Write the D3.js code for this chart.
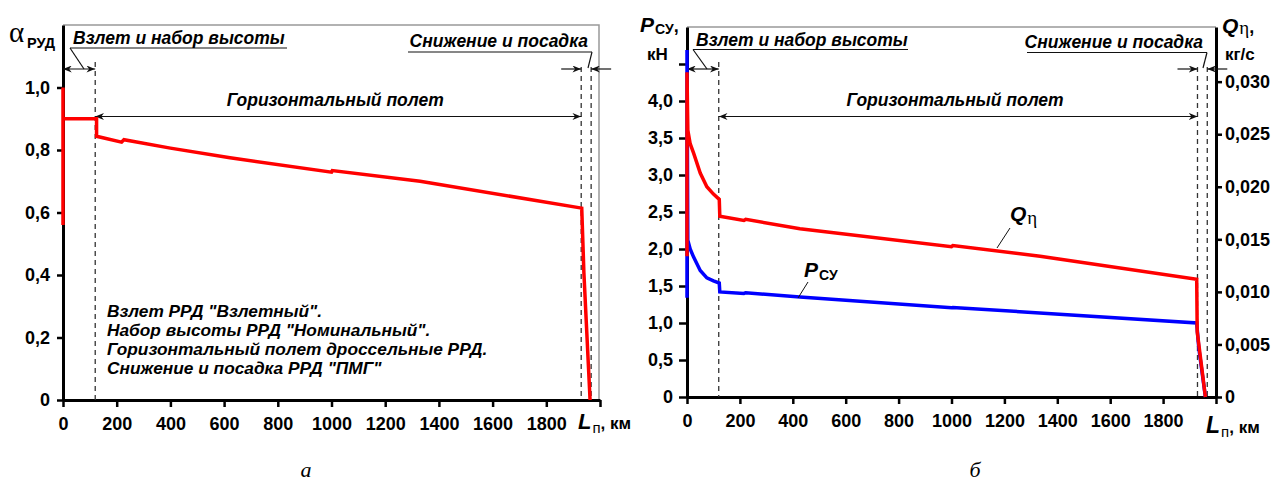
<!DOCTYPE html>
<html>
<head>
<meta charset="utf-8">
<script src="https://cdnjs.cloudflare.com/ajax/libs/d3/7.8.5/d3.min.js"></script>
<style>
  body { margin: 0; background: #fff; }
  text { font-family: "Liberation Sans", Arial, sans-serif; fill: #000; }
  .ann { font-style: italic; font-weight: bold; font-size: 17.5px; }
  .bold { font-weight: bold; }
  .serif { font-family: "Liberation Serif", "Times New Roman", serif; }
</style>
</head>
<body>
<svg id="chart" width="1276" height="484"></svg>
<script>
// ---- data ----
var kmTicks = [0, 200, 400, 600, 800, 1000, 1200, 1400, 1600, 1800, 2000];
var kmLabels = ["0", "200", "400", "600", "800", "1000", "1200", "1400", "1600", "1800", ""];
var alphaTicks = [0, 0.2, 0.4, 0.6, 0.8, 1.0];
var alphaLabels = ["0", "0,2", "0,4", "0,6", "0,8", "1,0"];
var pTicks = [0, 0.5, 1.0, 1.5, 2.0, 2.5, 3.0, 3.5, 4.0, 4.5];
var pLabels = ["0", "0,5", "1,0", "1,5", "2,0", "2,5", "3,0", "3,5", "4,0", ""];
var qTicks = [0, 0.005, 0.010, 0.015, 0.020, 0.025, 0.030];
var qLabels = ["0", "0,005", "0,010", "0,015", "0,020", "0,025", "0,030"];

// flight phases: end of climb, end of cruise, touchdown (km)
var phaseKm = [120, 1930, 1967];
var phaseNames = ["Взлет и набор высоты", "Горизонтальный полет", "Снижение и посадка"];
var notes = [
  'Взлет РРД "Взлетный".',
  'Набор высоты РРД "Номинальный".',
  'Горизонтальный полет дроссельные РРД.',
  'Снижение и посадка РРД "ПМГ"'
];

// throttle position alpha_RUD
var alphaKm  = [0,    0,   0,    125,  125,   218,   227,   400,   622,   1000,  1003,  1330, 1932,  1940,  1963];
var alphaVal = [0.56, 1.0, 0.90, 0.90, 0.844, 0.825, 0.833, 0.806, 0.775, 0.729, 0.734, 0.70, 0.614, 0.407, 0];

// thrust P_SU, kN
var pKm  = [0,    0,    3,    12,   25,   50,   75,   100,  122,  124,  215,  222,  427,  1000,  1005, 1927, 1935, 1960];
var pVal = [1.34, 4.69, 2.12, 2.00, 1.89, 1.71, 1.61, 1.57, 1.54, 1.42, 1.40, 1.41, 1.35, 1.205, 1.21, 1.00, 0.66, 0];

// fuel flow Q, kg/s
var qKm  = [0,      0,      3,      12,     25,     50,     75,     100,    122,    124,    215,    222,    427,    1000,   1005,   1335,   1927,   1929,   1960];
var qVal = [0.0134, 0.0309, 0.0254, 0.0241, 0.0232, 0.0213, 0.0200, 0.0193, 0.0188, 0.0172, 0.0168, 0.0169, 0.0160, 0.0143, 0.0144, 0.0134, 0.0112, 0.0062, 0];

var svg = d3.select("#chart");

var defs = svg.append("defs");
defs.append("marker")
  .attr("id", "arr")
  .attr("viewBox", "0 0 10 8")
  .attr("refX", 10).attr("refY", 4)
  .attr("markerWidth", 9).attr("markerHeight", 7)
  .attr("markerUnits", "userSpaceOnUse")
  .attr("orient", "auto-start-reverse")
  .append("path").attr("d", "M0,0 L10,4 L0,8 L3,4 Z").attr("fill", "#111");

function styleAxis(sel) {
  sel.attr("font-size", null).attr("font-family", null);
  sel.select(".domain").attr("stroke", "#000").attr("stroke-width", 3);
  sel.selectAll(".tick line").attr("stroke", "#000").attr("stroke-width", 2.5);
  sel.selectAll(".tick text").attr("class", "bold").style("font-size", "18px").attr("fill", "#000");
}

function seg(g, x1, y1, x2, y2, w, col) {
  return g.append("line").attr("x1", x1).attr("y1", y1).attr("x2", x2).attr("y2", y2)
    .attr("stroke", col || "#111").attr("stroke-width", w || 1.2);
}

function text(g, x, y, s, cls, size) {
  var t = g.append("text").attr("x", x).attr("y", y).attr("class", cls || null).text(s);
  if (size) t.style("font-size", size + "px");
  return t;
}

function span(t, s, cls, size, dx, dy) {
  return t.append("tspan").attr("class", cls || null).style("font-size", size + "px")
    .attr("dx", dx || 0).attr("dy", dy || 0).text(s);
}

// phase marks shared by both panels
function phases(g, x, yBottom, ul) {
  phaseKm.forEach(function (k, i) {
    seg(g, x(k), i == 0 ? 62 : 67, x(k), yBottom, 1.3, "#333").attr("stroke-dasharray", "5,4");
  });
  // takeoff/climb
  seg(g, x(0), 69, x(phaseKm[0]), 69).attr("marker-start", "url(#arr)").attr("marker-end", "url(#arr)");
  seg(g, ul.a0, ul.ya, ul.a1, ul.ya);
  seg(g, ul.a0, ul.ya, ul.a0 + 14, 69);
  text(g, ul.a0 + 3, ul.ya - 4, phaseNames[0], "ann");
  // cruise
  seg(g, x(phaseKm[0]), 116.5, x(phaseKm[1]), 116.5).attr("marker-start", "url(#arr)").attr("marker-end", "url(#arr)");
  text(g, (x(phaseKm[0]) + x(phaseKm[1])) / 2 - 3, 106, phaseNames[1], "ann").attr("text-anchor", "middle");
  // descent/landing
  seg(g, x(phaseKm[1]) - 20, 69, x(phaseKm[1]), 69).attr("marker-end", "url(#arr)");
  seg(g, x(phaseKm[2]) + 20, 69, x(phaseKm[2]), 69).attr("marker-end", "url(#arr)");
  seg(g, ul.c0, ul.yc, ul.c1, ul.yc);
  seg(g, ul.c1, ul.yc, ul.c1 - 4, 68);
  text(g, ul.c1 - 4, ul.yc - 5, phaseNames[2], "ann").attr("text-anchor", "end");
}

// ================= panel a =================
var gA = svg.append("g");
var xA = d3.scaleLinear().domain([0, 2000]).range([63, 600]);
var yA = d3.scaleLinear().domain([0, 1.2]).range([400, 25]);

gA.append("path").attr("d", "M" + xA(0) + "," + yA(1.2) + "H" + (xA(2000) - 1) + "V" + yA(0))
  .attr("fill", "none").attr("stroke", "#999").attr("stroke-width", 1.5);

gA.append("g").attr("transform", "translate(0," + yA(0) + ")")
  .call(d3.axisBottom(xA).tickValues(kmTicks).tickFormat(function (d, i) { return kmLabels[i]; })
    .tickSize(7).tickSizeOuter(0).tickPadding(10))
  .call(styleAxis);
gA.append("g").attr("transform", "translate(" + xA(0) + ",0)")
  .call(d3.axisLeft(yA).tickValues(alphaTicks).tickFormat(function (d, i) { return alphaLabels[i]; })
    .tickSize(6).tickSizeOuter(0).tickPadding(7))
  .call(styleAxis);

phases(gA, xA, yA(0), { a0: 70, a1: 287, ya: 48, c0: 408, c1: 592, yc: 52 });

notes.forEach(function (s, i) { text(gA, 107, 316.5 + i * 19, s, "ann", 17.3); });

var lineA = d3.line().x(function (d) { return xA(d[0]); }).y(function (d) { return yA(d[1]); });
gA.append("path").datum(d3.zip(alphaKm, alphaVal)).attr("d", lineA)
  .attr("fill", "none").attr("stroke", "#ff0000").attr("stroke-width", 3.5).attr("stroke-linejoin", "miter");

// axis titles
text(gA, 9, 42, "α", "serif", 29);
text(gA, 27, 48, "РУД", "bold", 14.5);
var lA = gA.append("text").attr("x", 578).attr("y", 429);
span(lA, "L", "ann", 22);
span(lA, "п", null, 15, 1, 4);
span(lA, ", км", "bold", 17, 0, -4);

// ================= panel б =================
var gB = svg.append("g");
var xB = d3.scaleLinear().domain([0, 2000]).range([687, 1216]);
var yP = d3.scaleLinear().domain([0, 5]).range([397, 27]);
var yQ = d3.scaleLinear().domain([0, 0.0352]).range([397, 27]);

seg(gB, xB(0), yP(5), xB(2000), yP(5), 1.5, "#999");

gB.append("g").attr("transform", "translate(0," + yP(0) + ")")
  .call(d3.axisBottom(xB).tickValues(kmTicks).tickFormat(function (d, i) { return kmLabels[i]; })
    .tickSize(7).tickSizeOuter(0).tickPadding(10))
  .call(styleAxis);
gB.append("g").attr("transform", "translate(" + xB(0) + ",0)")
  .call(d3.axisLeft(yP).tickValues(pTicks).tickFormat(function (d, i) { return pLabels[i]; })
    .tickSize(8).tickSizeOuter(0).tickPadding(6))
  .call(styleAxis);
gB.append("g").attr("transform", "translate(" + xB(2000) + ",0)")
  .call(d3.axisRight(yQ).tickValues(qTicks).tickFormat(function (d, i) { return qLabels[i]; })
    .tickSize(6).tickSizeOuter(0).tickPadding(3))
  .call(styleAxis);

phases(gB, xB, yP(0), { a0: 693, a1: 908, ya: 49.5, c0: 1027, c1: 1207, yc: 52.5 });

var lineP = d3.line().x(function (d) { return xB(d[0]); }).y(function (d) { return yP(d[1]); });
var lineQ = d3.line().x(function (d) { return xB(d[0]); }).y(function (d) { return yQ(d[1]); });
gB.append("path").datum(d3.zip(pKm, pVal)).attr("d", lineP)
  .attr("fill", "none").attr("stroke", "#0000ff").attr("stroke-width", 3.5);
gB.append("path").datum(d3.zip(qKm, qVal)).attr("d", lineQ)
  .attr("fill", "none").attr("stroke", "#ff0000").attr("stroke-width", 3.5);

// series labels with leaders
var tq = gB.append("text").attr("x", 1010).attr("y", 221);
span(tq, "Q", "ann", 21);
span(tq, "η", "serif", 19, 1, 3);
seg(gB, 1010, 228, 997, 248, 1);
var tp = gB.append("text").attr("x", 804).attr("y", 277);
span(tp, "P", "ann", 21);
span(tp, "СУ", "bold", 14, 1, 3);
seg(gB, 808, 282, 798, 298, 1);

// axis titles
var tpa = gB.append("text").attr("x", 640).attr("y", 32);
span(tpa, "P", "ann", 21);
span(tpa, "СУ", "bold", 14, 1, 2);
span(tpa, ",", "bold", 18, 0, -2);
text(gB, 647, 60, "кН", "bold", 17);
var tqa = gB.append("text").attr("x", 1222).attr("y", 33);
span(tqa, "Q", "ann", 21);
span(tqa, "η", "serif", 19, 1, 1);
span(tqa, ",", "bold", 18, 0, -1);
text(gB, 1225, 60, "кг/с", "bold", 17);
var lB = gB.append("text").attr("x", 1206).attr("y", 433);
span(lB, "L", "ann", 23);
span(lB, "п", null, 15, 1, 4);
span(lB, ", км", "bold", 17, 0, -4);

// captions
text(svg, 306, 477, "а", "serif", 22).style("font-style", "italic").attr("text-anchor", "middle");
text(svg, 975, 477, "б", "serif", 22).style("font-style", "italic").attr("text-anchor", "middle");
</script>
</body>
</html>
